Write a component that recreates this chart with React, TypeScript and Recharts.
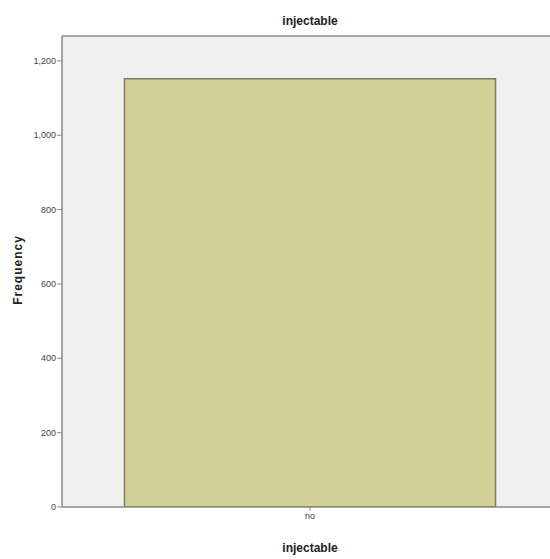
import { BarChart, Bar, XAxis, YAxis, CartesianGrid, ReferenceLine } from 'recharts'

const categories = ['no']
const frequencies = [1152]
const yTicks = [0, 200, 400, 600, 800, 1000, 1200]

const data = categories.map((c, i) => ({ name: c, value: frequencies[i] }))

const fmt = (v: number) => v.toLocaleString('en-US')

const tickStyle = {
  fill: '#444',
  fontSize: 9,
  fontFamily: '"Liberation Sans Narrow", "Liberation Sans", Arial, sans-serif',
}

const labelStyle: React.CSSProperties = {
  position: 'absolute',
  fontFamily: '"Liberation Sans", Arial, sans-serif',
  fontWeight: 'bold',
  fontSize: 12,
  color: '#222',
  whiteSpace: 'nowrap',
}

export default function App() {
  return (
    <div
      style={{
        position: 'absolute',
        left: 0,
        top: 0,
        width: 550,
        height: 559,
        overflow: 'hidden',
        background: '#fff',
      }}
    >
      <BarChart
        width={570}
        height={559}
        data={data}
        margin={{ top: 36, right: 12, left: 12, bottom: 32 }}
        barCategoryGap="12.6%"
      >
        <CartesianGrid fill="#f0f0f0" horizontal={false} vertical={false} />
        <ReferenceLine y={1267} stroke="#888" strokeWidth={1.5} />
        <XAxis
          dataKey="name"
          tick={tickStyle}
          tickSize={4}
          axisLine={{ stroke: '#888', strokeWidth: 1.5 }}
          tickLine={{ stroke: '#888' }}
          height={20}
        />
        <YAxis
          domain={[0, 1267]}
          ticks={yTicks}
          tickFormatter={fmt}
          tick={tickStyle}
          tickSize={5}
          tickMargin={1}
          axisLine={{ stroke: '#888', strokeWidth: 1.5 }}
          tickLine={{ stroke: '#888' }}
          width={50}
          allowDataOverflow
        />
        <Bar
          dataKey="value"
          fill="#d3cf98"
          stroke="#7f7d5c"
          strokeWidth={1.5}
          isAnimationActive={false}
        />
      </BarChart>
      <div style={{ ...labelStyle, left: 310, top: 14, transform: 'translateX(-50%)' }}>
        injectable
      </div>
      <div style={{ ...labelStyle, left: 310, top: 541, transform: 'translateX(-50%)' }}>
        injectable
      </div>
      <div
        style={{
          ...labelStyle,
          left: 18,
          top: 270,
          letterSpacing: 1,
          transform: 'translate(-50%, -50%) rotate(-90deg)',
        }}
      >
        Frequency
      </div>
    </div>
  )
}
